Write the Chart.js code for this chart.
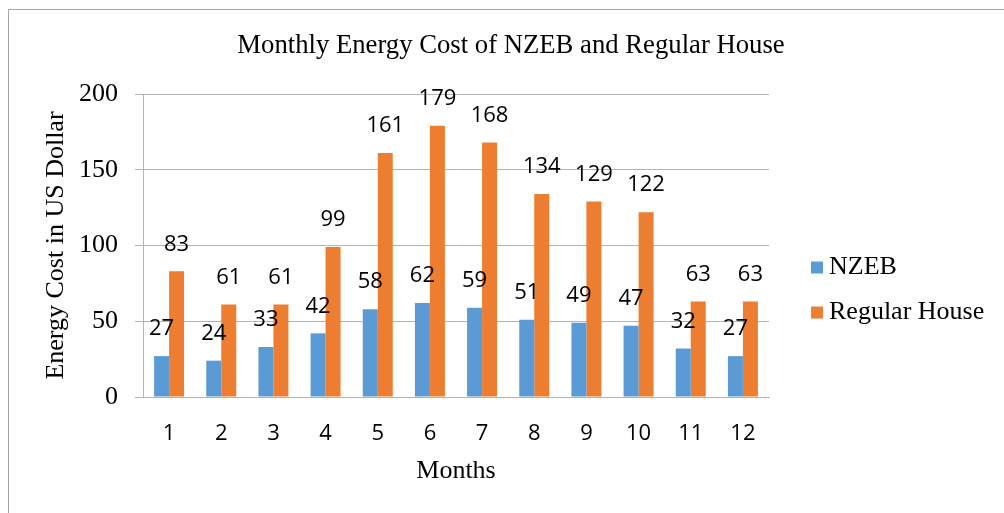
<!DOCTYPE html>
<html lang="en">
<head>
<meta charset="UTF-8">
<title>Monthly Energy Cost of NZEB and Regular House</title>
<script src="https://cdn.jsdelivr.net/npm/chart.js"></script>
<style>
    body {
        margin: 0;
        padding: 0;
        background: #fff;
    }
    .wrap {
        position: relative;
        width: 1004px;
        height: 513px;
        overflow: hidden;
    }
    .frame {
        position: absolute;
        left: 8px;
        top: 9px;
        width: 1100px;
        height: 600px;
        border: 1px solid #a6a6a6;
        pointer-events: none;
    }
    canvas {
        position: absolute;
        left: 0;
        top: 0;
    }
</style>
</head>
<body>
<div class="wrap">
    <div class="frame"></div>
    <canvas id="costChart" width="1004" height="513"></canvas>
</div>

<script>
// values
const months = ['1', '2', '3', '4', '5', '6', '7', '8', '9', '10', '11', '12'];
const nzebCost = [27, 24, 33, 42, 58, 62, 59, 51, 49, 47, 32, 27];
const regularCost = [83, 61, 61, 99, 161, 179, 168, 134, 129, 122, 63, 63];
const yTicks = [0, 50, 100, 150, 200];

const serif = '"Liberation Serif", "Times New Roman", serif';
const sans = '"Open Sans", "Noto Sans", sans-serif';
const gridColor = '#b4b4b4';

// value labels above each bar
const barValues = {
    id: 'barValues',
    afterDatasetsDraw(chart) {
        const ctx = chart.ctx;
        ctx.save();
        ctx.font = '22px ' + sans;
        ctx.fillStyle = '#000';
        ctx.textAlign = 'center';
        ctx.textBaseline = 'middle';
        chart.data.datasets.forEach((ds, i) => {
            chart.getDatasetMeta(i).data.forEach((bar, j) => {
                ctx.fillText(ds.data[j], bar.x, bar.y - 27);
            });
        });
        ctx.restore();
    }
};

// legend to the right of the plot, Excel style
const sideLegend = {
    id: 'sideLegend',
    afterDraw(chart) {
        const ctx = chart.ctx;
        const area = chart.chartArea;
        const x = area.right + 42;
        let y = (area.top + area.bottom) / 2 + 22;
        ctx.save();
        ctx.font = '26px ' + serif;
        ctx.textBaseline = 'middle';
        chart.data.datasets.forEach(ds => {
            ctx.fillStyle = ds.backgroundColor;
            ctx.fillRect(x, y - 6, 12, 12);
            ctx.fillStyle = '#000';
            ctx.fillText(ds.label, x + 18, y);
            y += 45;
        });
        ctx.restore();
    }
};

const ctx = document.getElementById('costChart').getContext('2d');
const costChart = new Chart(ctx, {
    type: 'bar',
    data: {
        labels: months,
        datasets: [{
            label: 'NZEB',
            data: nzebCost,
            backgroundColor: '#5b9bd5',
            categoryPercentage: 0.575,
            barPercentage: 1
        }, {
            label: 'Regular House',
            data: regularCost,
            backgroundColor: '#ed7d31',
            categoryPercentage: 0.575,
            barPercentage: 1
        }]
    },
    options: {
        responsive: false,
        animation: false,
        layout: { padding: { left: 28, right: 10, top: 0, bottom: 0 } },
        plugins: {
            title: {
                display: true,
                text: 'Monthly Energy Cost of NZEB and Regular House',
                color: '#000',
                font: { family: serif, size: 26.7, weight: 'normal' },
                padding: { top: 30, bottom: 32 }
            },
            legend: { display: false },
            tooltip: { enabled: false }
        },
        scales: {
            x: {
                grid: { display: false },
                border: { display: true, color: gridColor },
                ticks: {
                    color: '#000',
                    font: { family: sans, size: 22 },
                    padding: 16
                },
                title: {
                    display: true,
                    text: 'Months',
                    color: '#000',
                    font: { family: serif, size: 26 },
                    padding: { top: 0, bottom: 26 }
                },
                afterFit(scale) { scale.height = 116; }
            },
            y: {
                min: 0,
                max: 200,
                afterBuildTicks(scale) {
                    scale.ticks = yTicks.map(v => ({ value: v }));
                },
                grid: { color: gridColor, tickLength: 8 },
                border: { color: gridColor },
                ticks: {
                    color: '#000',
                    font: { family: serif, size: 26 },
                    padding: 17
                },
                title: {
                    display: true,
                    text: 'Energy Cost in US Dollar',
                    color: '#000',
                    font: { family: serif, size: 26 },
                    padding: { top: 13, bottom: 0 }
                },
                afterFit(scale) { scale.width = 115; }
            },
            // empty axis that keeps the room for the legend
            side: {
                type: 'linear',
                position: 'right',
                grid: { display: false },
                border: { display: false },
                ticks: { display: false },
                afterFit(scale) { scale.width = 225; }
            }
        }
    },
    plugins: [barValues, sideLegend]
});
</script>
</body>
</html>
